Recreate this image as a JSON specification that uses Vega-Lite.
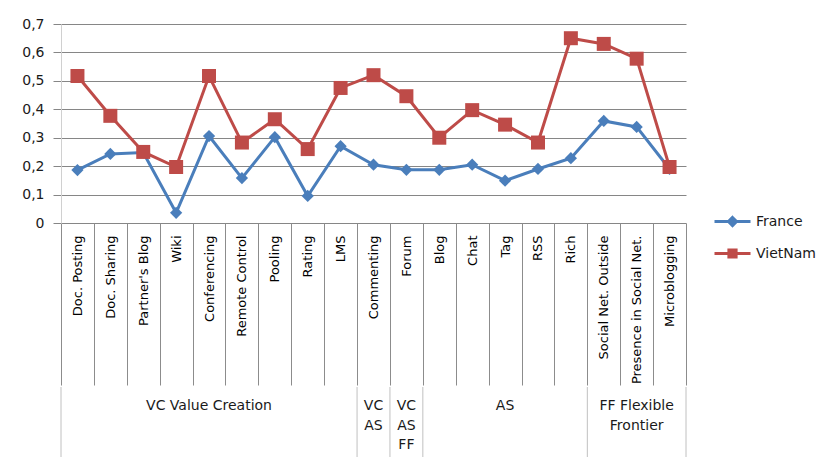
{
  "$schema": "https://vega.github.io/schema/vega-lite/v6.json",
  "padding": {"left": 21, "top": 17, "right": 5, "bottom": 2},
  "spacing": 0,
  "config": {"font": "DejaVu Sans", "view": {"stroke": null}},
  "datasets": {
    "pts": [
      {"cat": "Doc. Posting", "series": "France", "value": 0.186},
      {"cat": "Doc. Sharing", "series": "France", "value": 0.243},
      {"cat": "Partner's Blog", "series": "France", "value": 0.248},
      {"cat": "Wiki", "series": "France", "value": 0.036},
      {"cat": "Conferencing", "series": "France", "value": 0.306},
      {"cat": "Remote Control", "series": "France", "value": 0.158},
      {"cat": "Pooling", "series": "France", "value": 0.302},
      {"cat": "Rating", "series": "France", "value": 0.095},
      {"cat": "LMS", "series": "France", "value": 0.27},
      {"cat": "Commenting", "series": "France", "value": 0.205},
      {"cat": "Forum", "series": "France", "value": 0.187},
      {"cat": "Blog", "series": "France", "value": 0.187},
      {"cat": "Chat", "series": "France", "value": 0.205},
      {"cat": "Tag", "series": "France", "value": 0.149},
      {"cat": "RSS", "series": "France", "value": 0.19},
      {"cat": "Rich", "series": "France", "value": 0.228},
      {"cat": "Social Net. Outside", "series": "France", "value": 0.359},
      {"cat": "Presence in Social Net.", "series": "France", "value": 0.338},
      {"cat": "Microblogging", "series": "France", "value": 0.19},
      {"cat": "Doc. Posting", "series": "VietNam", "value": 0.517},
      {"cat": "Doc. Sharing", "series": "VietNam", "value": 0.377},
      {"cat": "Partner's Blog", "series": "VietNam", "value": 0.25},
      {"cat": "Wiki", "series": "VietNam", "value": 0.197},
      {"cat": "Conferencing", "series": "VietNam", "value": 0.517},
      {"cat": "Remote Control", "series": "VietNam", "value": 0.283},
      {"cat": "Pooling", "series": "VietNam", "value": 0.365},
      {"cat": "Rating", "series": "VietNam", "value": 0.26},
      {"cat": "LMS", "series": "VietNam", "value": 0.475},
      {"cat": "Commenting", "series": "VietNam", "value": 0.52},
      {"cat": "Forum", "series": "VietNam", "value": 0.446},
      {"cat": "Blog", "series": "VietNam", "value": 0.3},
      {"cat": "Chat", "series": "VietNam", "value": 0.397},
      {"cat": "Tag", "series": "VietNam", "value": 0.346},
      {"cat": "RSS", "series": "VietNam", "value": 0.283},
      {"cat": "Rich", "series": "VietNam", "value": 0.65},
      {"cat": "Social Net. Outside", "series": "VietNam", "value": 0.63},
      {"cat": "Presence in Social Net.", "series": "VietNam", "value": 0.578},
      {"cat": "Microblogging", "series": "VietNam", "value": 0.197}
    ],
    "groups": [
      {"cat": "Conferencing", "label": "VC Value Creation"},
      {"cat": "Commenting", "label": "VC\nAS"},
      {"cat": "Forum", "label": "VC\nAS\nFF"},
      {"cat": "Tag", "label": "AS"},
      {"cat": "Presence in Social Net.", "label": "FF Flexible\nFrontier"}
    ],
    "seps": [
      {"cat": "Doc. Posting"},
      {"cat": "Commenting"},
      {"cat": "Forum"},
      {"cat": "Blog"},
      {"cat": "Social Net. Outside"}
    ],
    "sepEnd": [{"cat": "Microblogging"}]
  },
  "vconcat": [
    {
      "width": 625,
      "height": 199,
      "data": {"name": "pts"},
      "encoding": {
        "x": {
          "field": "cat",
          "type": "nominal",
          "bandPosition": 0.5,
          "scale": {
            "type": "band",
            "paddingInner": 0,
            "paddingOuter": 0,
            "domain": ["Doc. Posting", "Doc. Sharing", "Partner's Blog", "Wiki", "Conferencing", "Remote Control", "Pooling", "Rating", "LMS", "Commenting", "Forum", "Blog", "Chat", "Tag", "RSS", "Rich", "Social Net. Outside", "Presence in Social Net.", "Microblogging"]
          },
          "axis": {
            "title": null,
            "labelAngle": 270,
            "labelAlign": "right",
            "labelBaseline": "middle",
            "labelPadding": -150,
            "labelFontSize": 13,
            "labelColor": "#000000",
            "labelLimit": 0,
            "tickSize": 162,
            "tickBand": "extent",
            "tickColor": "#8c8c8c",
            "domain": false,
            "grid": false
          }
        },
        "y": {
          "field": "value",
          "type": "quantitative",
          "scale": {"domain": [0, 0.7], "nice": false},
          "axis": {
            "title": null,
            "values": [0, 0.1, 0.2, 0.3, 0.4, 0.5, 0.6, 0.7],
            "labelExpr": "datum.value === 0 ? '0' : replace(format(datum.value, '.1f'), '.', ',')",
            "grid": true,
            "gridColor": "#868686",
            "gridOpacity": 1,
            "tickColor": "#868686",
            "tickSize": 8,
            "labelPadding": 9,
            "labelFontSize": 14,
            "labelColor": "#1a1a1a",
            "domainColor": "#d0d0d0"
          }
        },
        "color": {
          "field": "series",
          "type": "nominal",
          "scale": {"domain": ["France", "VietNam"], "range": ["#4A7EBB", "#BE4B48"]},
          "legend": {
            "title": null,
            "orient": "none",
            "legendX": 661,
            "legendY": 187,
            "padding": 0,
            "symbolSize": 324,
            "labelFontSize": 14,
            "labelColor": "#1a1a1a",
            "labelOffset": 13,
            "rowPadding": 11,
            "encode": {
              "symbols": {
                "update": {
                  "shape": {"signal": "datum.value === 'France' ? 'M-2,0L2,0M0,-0.45L0.45,0L0,0.45L-0.45,0Z' : 'M-2,0L2,0M-0.4,-0.4L0.4,-0.4L0.4,0.4L-0.4,0.4Z'"},
                  "fill": {"signal": "datum.value === 'France' ? '#4A7EBB' : '#BE4B48'"},
                  "stroke": {"signal": "datum.value === 'France' ? '#4A7EBB' : '#BE4B48'"},
                  "strokeWidth": {"value": 3},
                  "opacity": {"value": 1},
                  "fillOpacity": {"value": 1},
                  "strokeOpacity": {"value": 1}
                }
              }
            }
          }
        }
      },
      "layer": [
        {"mark": {"type": "line", "strokeWidth": 3}},
        {
          "transform": [{"filter": "datum.series === 'France'"}],
          "mark": {"type": "point", "shape": "diamond", "filled": true, "size": 150, "opacity": 1}
        },
        {
          "transform": [{"filter": "datum.series === 'VietNam'"}],
          "mark": {"type": "point", "shape": "square", "filled": true, "size": 196, "opacity": 1}
        }
      ]
    },
    {
      "width": 625,
      "height": 70,
      "layer": [
        {
          "data": {"name": "seps"},
          "mark": {"type": "rule", "color": "#c0c0c0", "strokeWidth": 1},
          "encoding": {
            "x": {
              "field": "cat",
              "type": "nominal",
              "bandPosition": 0,
              "scale": {
                "type": "band",
                "paddingInner": 0,
                "paddingOuter": 0,
                "domain": ["Doc. Posting", "Doc. Sharing", "Partner's Blog", "Wiki", "Conferencing", "Remote Control", "Pooling", "Rating", "LMS", "Commenting", "Forum", "Blog", "Chat", "Tag", "RSS", "Rich", "Social Net. Outside", "Presence in Social Net.", "Microblogging"]
              },
              "axis": null
            }
          }
        },
        {
          "data": {"name": "sepEnd"},
          "mark": {"type": "rule", "color": "#c0c0c0", "strokeWidth": 1},
          "encoding": {
            "x": {"field": "cat", "type": "nominal", "bandPosition": 1, "axis": null}
          }
        },
        {
          "data": {"name": "groups"},
          "mark": {"type": "text", "align": "center", "baseline": "top", "lineBreak": "\n", "lineHeight": 19.5, "fontSize": 14, "color": "#1a1a1a"},
          "encoding": {
            "x": {"field": "cat", "type": "nominal", "bandPosition": 0.5, "axis": null},
            "y": {"value": 12},
            "text": {"field": "label"}
          }
        }
      ]
    }
  ]
}
